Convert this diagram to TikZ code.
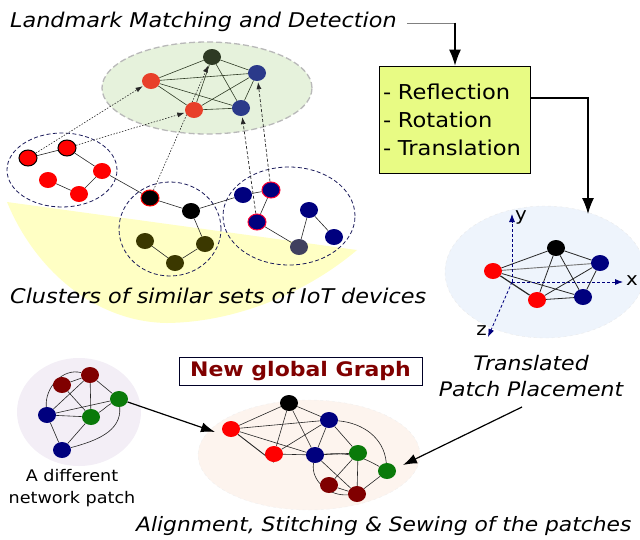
\documentclass[tikz,border=0pt]{standalone}
\usepackage{fontspec}
\setmainfont{DejaVu Sans}[FakeStretch=1.1]
\usetikzlibrary{arrows.meta,shapes.geometric}
\pgfdeclarelayer{bg}
\pgfdeclarelayer{edges}
\pgfsetlayers{bg,edges,main}
\definecolor{tgreen}{HTML}{E6F2DC}
\definecolor{tdark}{HTML}{2E3A24}
\definecolor{tred}{HTML}{E8402A}
\definecolor{tblue}{HTML}{2B3A8A}
\definecolor{navy}{HTML}{00007E}
\definecolor{olive}{HTML}{3B3800}
\definecolor{grnavy}{HTML}{40405F}
\definecolor{yel}{HTML}{FFFFC4}
\definecolor{boxfill}{HTML}{E8FB84}
\definecolor{lblue}{HTML}{EEF4FC}
\definecolor{lpurple}{HTML}{F3EEF6}
\definecolor{lorange}{HTML}{FDF4EE}
\definecolor{dred}{HTML}{800000}
\definecolor{dgreen}{HTML}{0A7A0A}
\definecolor{clline}{HTML}{1A1A5A}
\begin{document}
\begin{tikzpicture}[x=1pt,y=-1pt,
  dot/.style={ellipse, inner sep=0pt, minimum width=18pt, minimum height=16pt},
  ed/.style={draw=black!85, line width=0.6pt},
  clu/.style={ellipse, draw=clline, dash pattern=on 4pt off 2.5pt, line width=0.8pt, inner sep=0pt},
  dotar/.style={draw=black!85, line width=0.6pt, dash pattern=on 1.5pt off 1.5pt, -{Latex[length=7pt,width=5pt]}, shorten >=1pt},
  dasar/.style={draw=black!85, line width=0.7pt, dash pattern=on 3pt off 2pt, -{Latex[length=7pt,width=5pt]}, shorten >=1pt},
  ttl/.style={font=\fontsize{20.3}{24}\selectfont\itshape, inner sep=0pt},
  bigar/.style={line width=1.2pt, -{Latex[length=14pt,width=10pt]}}
]
\useasboundingbox (0,0) rectangle (640,539);

% ---------- backgrounds ----------
\begin{pgfonlayer}{bg}
\fill[yel] (7,202) -- (357,250) .. controls (310,290) and (240,322) .. (167,323)
   .. controls (95,322) and (35,270) .. (7,202) -- cycle;
\node[ellipse, fill=tgreen, draw=gray!55, dash pattern=on 6pt off 3pt, line width=1.3pt, minimum width=210pt, minimum height=92pt, inner sep=0pt] (topell) at (207,88) {};
\node[clu, minimum width=110pt, minimum height=74pt] (cl1) at (62,170) {};
\node[clu, minimum width=102pt, minimum height=94pt] (cl2) at (170,229) {};
\node[clu, minimum width=132pt, minimum height=98pt] (cl3) at (289,216) {};
\node[ellipse, fill=lblue, draw=black!8, dashed, minimum width=200pt, minimum height=132pt, inner sep=0pt] (rell) at (545,272) {};
\node[ellipse, fill=lpurple, minimum width=124pt, minimum height=108pt, inner sep=0pt] (pell) at (79,412) {};
\node[ellipse, fill=lorange, draw=black!6, dashed, minimum width=222pt, minimum height=110pt, inner sep=0pt] (oell) at (309,455) {};
\end{pgfonlayer}

% ---------- texts ----------
\node[ttl, anchor=base west] (lmd) at (10,27) {Landmark Matching and Detection};
\node[ttl, anchor=base west] (clt) at (10,303) {Clusters of similar sets of IoT devices};
\node[draw=black, line width=0.8pt, fill=boxfill, minimum width=151pt, minimum height=107pt, text width=143pt, inner xsep=4pt, align=left, font=\fontsize{20.5}{28}\selectfont] (box) at (454.5,119.5) {- Reflection\\- Rotation\\- Translation};
\node[ttl, align=center, font=\fontsize{20}{26}\selectfont\itshape] (tpp) at (531,376) {Translated\\Patch Placement};
\node[align=center, font=\fontsize{16}{22}\selectfont, inner sep=0pt] (dnp) at (72,488) {A different\\network patch};
\node[draw=black!85!blue, line width=1pt, minimum width=243pt, minimum height=28pt, inner sep=0pt, text=dred, font=\fontsize{20}{24}\selectfont\bfseries] (ngg) at (300.5,371) {New global Graph};
\node[ttl, anchor=base west, font=\fontsize{19.8}{24}\selectfont\itshape] (asw) at (136,531) {Alignment, Stitching \& Sewing of the patches};

% ---------- top graph ----------
\node[dot, fill=tdark] (tdk) at (212,57) {};
\node[dot, fill=tred] (trl) at (151,81) {};
\node[dot, fill=tblue] (tbr) at (257,73) {};
\node[dot, fill=tred] (trm) at (194,110) {};
\node[dot, fill=tblue] (tbl) at (241,108) {};
\begin{pgfonlayer}{edges}
\foreach \a/\b in {trl/tdk,trl/tbr,trl/tbl,trl/trm,tdk/trm,tdk/tbl,tdk/tbr,trm/tbr,trm/tbl,tbl/tbr}
  \draw[ed, draw=tdark] (\a) -- (\b);
\end{pgfonlayer}

% ---------- clusters ----------
\node[dot, fill=red, draw=black, line width=1pt] (A) at (28,158) {};
\node[dot, fill=red, draw=black, line width=1pt] (B) at (67,148) {};
\node[dot, fill=red] (C) at (102,171) {};
\node[dot, fill=red] (D) at (48,180) {};
\node[dot, fill=red] (E) at (79,194) {};
\node[dot, fill=black, draw=red, line width=1pt] (F) at (150,198) {};
\node[dot, fill=black] (G) at (191,211) {};
\node[dot, fill=olive] (H) at (145,241) {};
\node[dot, fill=olive] (I) at (175,263) {};
\node[dot, fill=olive] (J) at (205,244) {};
\node[dot, fill=navy] (K) at (243,195) {};
\node[dot, fill=navy, draw=red!80!magenta, line width=1pt] (L) at (271,190) {};
\node[dot, fill=navy, draw=red!80!magenta, line width=1pt] (M) at (257,222) {};
\node[dot, fill=navy] (N) at (309,210) {};
\node[dot, fill=navy] (O) at (334,237) {};
\node[dot, fill=grnavy] (P) at (299,247) {};
\begin{pgfonlayer}{edges}
\foreach \a/\b in {A/B,B/C,C/E,D/E,C/F,F/G,G/J,J/I,I/H,G/K,K/L,L/M,M/P,P/N,N/O}
  \draw[ed] (\a) -- (\b);
\draw[dotar] (A) -- (trl);
\draw[dotar] (B) -- (trm);
\draw[dotar] (F) -- (tdk);
\draw[dasar] (M) -- (tbl);
\draw[dasar] (L) -- (tbr);
\end{pgfonlayer}

% ---------- right graph ----------
\coordinate (org) at (512,282);
\coordinate (yax) at (512,214);
\coordinate (xax) at (623,282);
\coordinate (zax) at (488,337);
\draw[navy, densely dashed, line width=0.8pt, -{Latex[length=8pt,width=6pt]}] (org) -- (yax);
\draw[navy, densely dashed, line width=0.8pt, -{Latex[length=8pt,width=6pt]}] (org) -- (xax);
\draw[navy, densely dashed, line width=0.8pt, -{Latex[length=8pt,width=6pt]}] (org) -- (zax);
\node[font=\fontsize{18}{20}\selectfont, inner sep=0pt, anchor=west] (ylab) at (515,217) {y};
\node[font=\fontsize{18}{20}\selectfont, inner sep=0pt, anchor=west] (xlab) at (626,281) {x};
\node[font=\fontsize{18}{20}\selectfont, inner sep=0pt, anchor=east] (zlab) at (487,331) {z};
\node[dot, fill=black] (rbk) at (556,248) {};
\node[dot, fill=red] (rrl) at (493,271) {};
\node[dot, fill=navy] (rbr) at (600,263) {};
\node[dot, fill=red] (rrb) at (537,300) {};
\node[dot, fill=navy] (rbb) at (583,297) {};
\begin{pgfonlayer}{edges}
\foreach \a/\b in {rrl/rbk,rrl/rbb,rbk/rrb,rbk/rbb,rbk/rbr,rrb/rbr,rrb/rbb,rbb/rbr}
  \draw[ed, line width=0.8pt] (\a) -- (\b);
\draw[ed, draw=black!55, line width=0.9pt] (rrl) -- (rbr);
\draw[ed, line width=1.2pt] (rrl) -- (rrb);
\end{pgfonlayer}

% ---------- different patch ----------
\node[dot, fill=dred] (pd1) at (62,385) {};
\node[dot, fill=dred] (pd2) at (90,375) {};
\node[dot, fill=dgreen] (pg1) at (119,399) {};
\node[dot, fill=navy] (pn1) at (47,415) {};
\node[dot, fill=dgreen] (pg2) at (91,417) {};
\node[dot, fill=navy] (pn2) at (62,450) {};
\begin{pgfonlayer}{edges}
\foreach \a/\b in {pd1/pd2,pn1/pd2,pd1/pg2,pd2/pg2,pd2/pg1,pn1/pg1,pn1/pg2,pn1/pn2,pn2/pg2}
  \draw[ed] (\a) -- (\b);
\draw[ed] (pn1) to[out=95,in=165] (pd2);
\draw[ed] (pg2) to[out=30,in=-150] (pg1);
\draw[ed] (pn2) to[out=15,in=-85] (pg1);
\end{pgfonlayer}

% ---------- global graph ----------
\node[dot, fill=black] (gbk) at (289,403) {};
\node[dot, fill=red] (gr1) at (231,429) {};
\node[dot, fill=navy] (gb1) at (329,420) {};
\node[dot, fill=red] (gr2) at (274,454) {};
\node[dot, fill=navy] (gb2) at (315,455) {};
\node[dot, fill=dgreen] (gg1) at (358,453) {};
\node[dot, fill=dgreen] (gg2) at (387,471) {};
\node[dot, fill=dred] (gd1) at (329,485) {};
\node[dot, fill=dred] (gd2) at (357,494) {};
\begin{pgfonlayer}{edges}
\foreach \a/\b in {gr1/gbk,gr1/gb1,gr1/gb2,gbk/gr2,gbk/gb2,gbk/gb1,gr2/gb1,gr2/gb2,gb2/gb1,gb1/gg1,gb2/gg1,gb2/gd2,gd1/gg1,gd2/gg1,gd1/gd2,gd2/gg2}
  \draw[ed] (\a) -- (\b);
\draw[ed, line width=0.9pt] (gr1) -- (gr2.south);
\draw[ed] (gb1) to[out=-5,in=95] (gg2);
\draw[ed] (gb2) to[out=5,in=150] (gg2);
\draw[ed] (gb2) to[out=-100,in=185] (gd2);
\end{pgfonlayer}

% ---------- process arrows ----------
\draw[gray, line width=1pt] ([xshift=10pt]lmd.east |- 0,23) -- (455,23);
\draw[line width=1.2pt, -{Latex[length=16pt,width=12pt]}] (455,22.5) -- (box.north -| 455,0);
\coordinate (rtop) at (588,214);
\draw[line width=1.2pt, -{Latex[length=16pt,width=12pt]}] (box.east |- 0,98) -| (rtop);
\coordinate (ain) at (215,432);
\coordinate (ain2) at (403,465);
\draw[bigar] (pg1) -- (ain);
\draw[bigar] (522,407) -- (ain2);
\end{tikzpicture}
\end{document}
